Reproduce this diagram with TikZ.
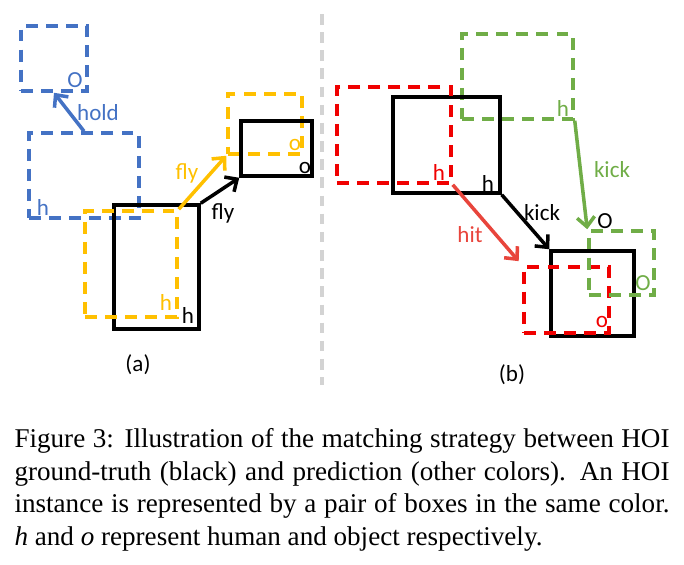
\documentclass[tikz,border=0pt]{standalone}
\usepackage{fontspec}
\setmainfont{Liberation Serif}
\newfontfamily\diagfont{Carlito}
\usetikzlibrary{fit,arrows.meta}

\definecolor{hoiblue}{HTML}{4472C4}
\definecolor{hoiyellow}{HTML}{FFC000}
\definecolor{hoigreen}{HTML}{70AD47}
\definecolor{hoired}{HTML}{F00000}
\definecolor{hitred}{HTML}{E8453C}
\definecolor{sepgray}{HTML}{D3D3D3}

\tikzset{
  gtbox/.style={draw=black, line width=1.3pt, inner sep=0pt},
  predbox/.style={draw=#1, line width=1.3pt, inner sep=0pt, dash pattern=on 4.4pt off 3pt},
  rel/.style={->, line width=1.3pt, draw=#1},
  lbl/.style={font=\diagfont\fontsize{8.5}{10}\selectfont, text=#1, inner sep=0pt},
}

\begin{document}
\begin{tikzpicture}[x=0.369pt, y=-0.369pt, >={Straight Barb[length=3.5pt,width=6.5pt]}]
  \useasboundingbox (0,0) rectangle (684,565);

  % (a) boxes: ground truth and predictions
  \node[predbox=hoiblue, fit={(21,26) (87,91)}] (ob) {};
  \node[predbox=hoiblue, fit={(29,133) (139,218)}] (hb) {};
  \node[predbox=hoiyellow, fit={(228,94) (302,154)}] (oy) {};
  \node[gtbox, fit={(241,121) (312,176)}] (oa) {};
  \node[gtbox, fit={(114,205) (199,329)}] (ha) {};
  \node[predbox=hoiyellow, fit={(85,211) (177,317)}] (hy) {};

  % (a) relations
  \draw[rel=hoiblue] (hb.north) -- (ob.south);
  \draw[rel=hoiyellow] (hy.north east) -- (oy.south west);
  \draw[rel=black] (ha.north east) -- (oa.south west);

  % (a) labels
  \node[lbl=hoiblue] (ob-o) at (75,80) {O};
  \node[lbl=hoiblue] (hb-h) at (43,207) {h};
  \node[lbl=hoiblue] (hold) at (98,113) {hold};
  \node[lbl=hoiyellow] (oy-o) at (295,145) {o};
  \node[lbl=black] (oa-o) at (305,168) {o};
  \node[lbl=hoiyellow] (hy-h) at (166,302) {h};
  \node[lbl=black] (ha-h) at (188,315) {h};
  \node[lbl=hoiyellow] (fly-y) at (187,173) {fly};
  \node[lbl=black] (fly-k) at (223,213) {fly};
  \node[lbl=black] (cap-a) at (138,365) {(a)};

  % separator
  \coordinate (sep-top) at (322,14);
  \coordinate (sep-bot) at (322,385);
  \draw[sepgray, line width=1.3pt, dash pattern=on 3.9pt off 2.8pt] (sep-top) -- (sep-bot);

  % (b) boxes
  \node[predbox=hoigreen, fit={(462,34) (573,119)}] (hg) {};
  \node[gtbox, fit={(393,97) (500,193)}] (hk) {};
  \node[predbox=hoired, fit={(337,87) (451,183)}] (hr) {};
  \node[gtbox, fit={(551,251) (634,336)}] (ok) {};
  \node[predbox=hoired, fit={(524,267) (609,333)}] (or) {};
  \node[predbox=hoigreen, fit={(589,231) (654,295)}] (og) {};

  % (b) relations
  \draw[rel=hoigreen] (hg.south east) -- (og.north west);
  \draw[rel=black] (hk.south east) -- (ok.north west);
  \draw[rel=hitred, shorten >=2pt] (hr.south east) -- (or.north west);

  % (b) labels
  \node[lbl=hoigreen] (hg-h) at (563,108) {h};
  \node[lbl=hoired] (hr-h) at (439,172) {h};
  \node[lbl=black] (hk-h) at (488,183) {h};
  \node[lbl=black] (ok-o) at (605,221) {O};
  \node[lbl=hoired] (or-o) at (602,322) {o};
  \node[lbl=hoigreen] (og-o) at (643,283) {O};
  \node[lbl=hoigreen] (kick-g) at (612,170) {kick};
  \node[lbl=black] (kick-k) at (542,213) {kick};
  \node[lbl=hitred] (hit) at (470,235) {hit};
  \node[lbl=black] (cap-b) at (512,375) {(b)};

  % caption
  \node[anchor=north west, inner sep=0pt, text width=655*0.369pt, align=justify,
        font=\fontsize{10}{12}\selectfont] (caption) at (14,428)
    {Figure 3: Illustration of the matching strategy between HOI\linebreak
     ground-truth (black) and prediction (other colors). An HOI\linebreak
     instance is represented by a pair of boxes in the same color.\linebreak
     \textit{h} and \textit{o} represent human and object respectively.};
\end{tikzpicture}
\end{document}
